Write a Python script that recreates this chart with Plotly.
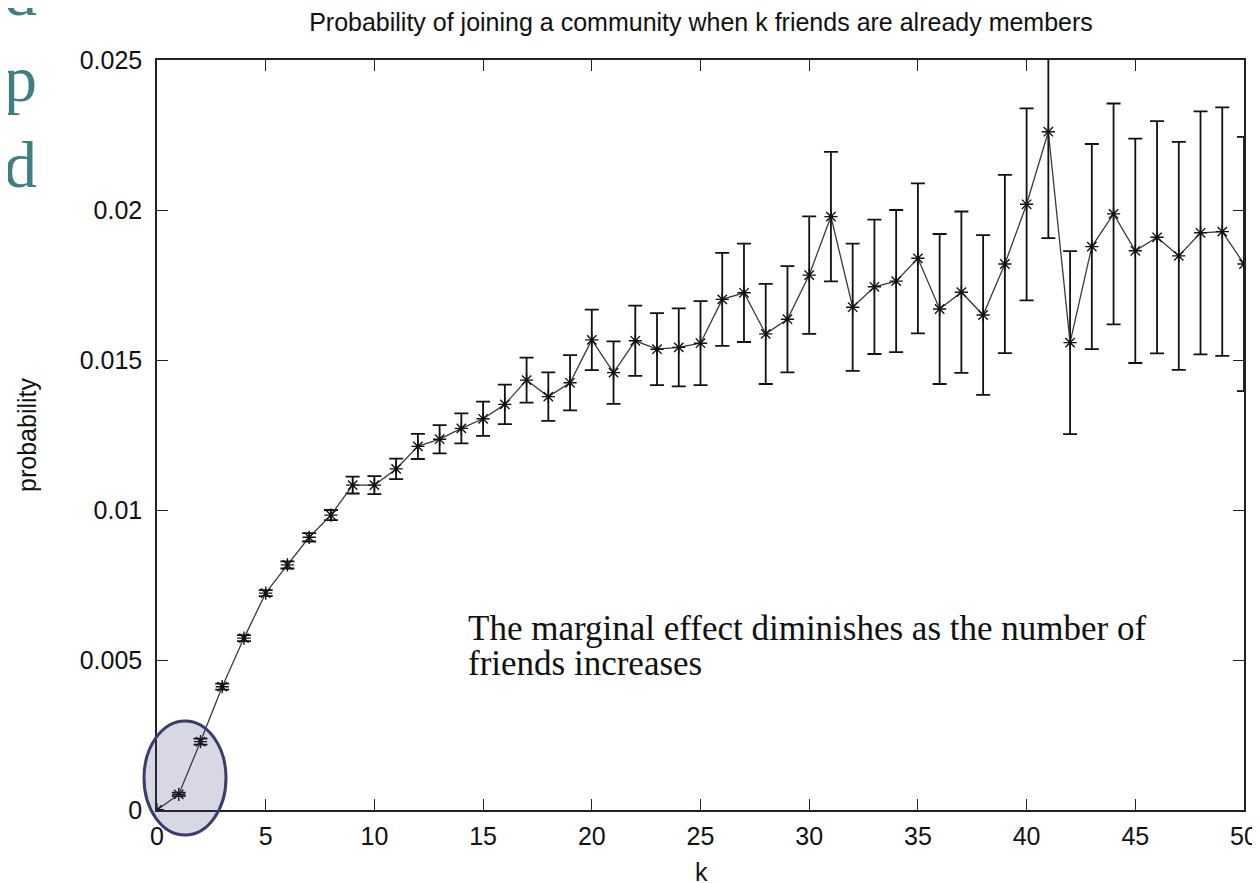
import plotly.graph_objects as go

# ---- data ----
k = list(range(51))
probability = [
    0.0, 0.00052, 0.00228, 0.00411, 0.00573, 0.00723, 0.00817, 0.00909, 0.00983, 0.01083,
    0.01083, 0.01137, 0.01212, 0.01236, 0.01272, 0.01304, 0.01352, 0.01433, 0.01378, 0.01424,
    0.01567, 0.01458, 0.01564, 0.01536, 0.01542, 0.01556, 0.01702, 0.01724, 0.01587, 0.01636,
    0.01783, 0.01978, 0.01676, 0.01744, 0.01763, 0.01839, 0.01670, 0.01726, 0.01650, 0.01820,
    0.02019, 0.02261, 0.01558, 0.01878, 0.01987, 0.01864, 0.01909, 0.01847, 0.01924, 0.01928,
    0.01820,
]
error = [
    0.0, 0.00006, 0.0001, 0.0001, 0.0001, 0.0001, 0.00012, 0.00014, 0.00017, 0.00028,
    0.0003, 0.00034, 0.00042, 0.00047, 0.0005, 0.00057, 0.00066, 0.00075, 0.00081, 0.00092,
    0.00101, 0.00104, 0.00117, 0.0012, 0.0013, 0.0014, 0.00155, 0.00164, 0.00167, 0.00177,
    0.00196, 0.00216, 0.00212, 0.00224, 0.00237, 0.0025, 0.0025, 0.00269, 0.00266, 0.00297,
    0.0032, 0.00355, 0.00305, 0.00342, 0.00368, 0.00374, 0.00387, 0.0038, 0.00405, 0.00414,
    0.00424,
]
x_ticks = [0, 5, 10, 15, 20, 25, 30, 35, 40, 45, 50]
y_ticks = [0, 0.005, 0.01, 0.015, 0.02, 0.025]
y_tick_labels = ["0", "0.005", "0.01", "0.015", "0.02", "0.025"]

title_text = "Probability of joining a community when k friends are already members"
x_title = "k"
y_title = "probability"
note_line1 = "The marginal effect diminishes as the number of"
note_line2 = "friends increases"
slide_text = "d<br>p<br>d"

# page offset of the figure inside the HTML body (default body margin)
OFF = 8
W, H = 1252, 875
# plot area in page pixels: x 157..1244, y 60..810
L = 157 - OFF
T = 60 - OFF
R = W - (1244 - OFF)
B = H - (810 - OFF)
pw, ph = W - L - R, H - T - B

SANS = "Liberation Sans, Arial, sans-serif"
SERIF = "Liberation Serif, Times New Roman, serif"


def px_x(p):  # page pixel -> paper x
    return (p - OFF - L) / pw


def px_y(p):  # page pixel -> paper y
    return (H - B - (p - OFF)) / ph


fig = go.Figure()
fig.add_trace(go.Scatter(
    x=k, y=probability,
    mode="lines+markers",
    line=dict(color="#3a3a3a", width=1.3),
    marker=dict(symbol="asterisk-open", size=11, color="#111111",
                line=dict(width=1.4, color="#111111")),
    error_y=dict(type="data", array=error, visible=True, color="#111111",
                 thickness=1.8, width=7),
    cliponaxis=True,
    showlegend=False,
))

axis_common = dict(
    showline=True, linecolor="#222222", linewidth=1.5, mirror="ticks",
    ticks="inside", ticklen=11, tickwidth=1.3, tickcolor="#222222",
    showgrid=False, zeroline=False,
    tickfont=dict(family=SANS, size=25, color="#111111"),
)

fig.update_layout(
    width=W, height=H,
    margin=dict(l=L, r=R, t=T, b=B, autoexpand=False),
    paper_bgcolor="white", plot_bgcolor="white",
    title=dict(text=title_text, x=px_x(701), xref="paper", xanchor="center",
               y=1 - (22 - OFF) / H, yref="container", yanchor="middle",
               font=dict(family=SANS, size=25, color="#111111")),
    xaxis=dict(range=[0, 50], tickvals=x_ticks, ticktext=[str(v) for v in x_ticks],
               ticklabelstandoff=3, **axis_common),
    yaxis=dict(range=[0, 0.025], tickvals=y_ticks, ticktext=y_tick_labels,
               ticklabelstandoff=8,
               title=dict(text=y_title, standoff=36,
                          font=dict(family=SANS, size=25, color="#111111")),
               **axis_common),
)

# x-axis title placed as an annotation (sits lower than the margin would allow)
fig.add_annotation(text=x_title, xref="paper", yref="paper",
                   x=px_x(701), y=px_y(872), xanchor="center", yanchor="middle",
                   showarrow=False, font=dict(family=SANS, size=25, color="#111111"))

# highlight ellipse around the first few points
fig.add_shape(type="circle", xref="paper", yref="paper",
              x0=px_x(144), x1=px_x(226), y0=px_y(835), y1=px_y(721),
              fillcolor="rgba(60,60,120,0.2)",
              line=dict(color="#3a3e69", width=3), layer="above")

fig.add_annotation(text=note_line1, xref="paper", yref="paper",
                   x=px_x(466), y=px_y(628), xanchor="left", yanchor="middle",
                   align="left", showarrow=False,
                   font=dict(family=SERIF, size=35, color="#111111"))
fig.add_annotation(text=note_line2, xref="paper", yref="paper",
                   x=px_x(466), y=px_y(663), xanchor="left", yanchor="middle",
                   align="left", showarrow=False,
                   font=dict(family=SERIF, size=35, color="#111111"))

fig.add_annotation(text=slide_text, xref="paper", yref="paper",
                   x=px_x(39), y=px_y(78), xanchor="right", yanchor="middle",
                   align="right", showarrow=False,
                   font=dict(family=SERIF, size=66, color="#3f7f82"))

fig.write_html("out.html")
